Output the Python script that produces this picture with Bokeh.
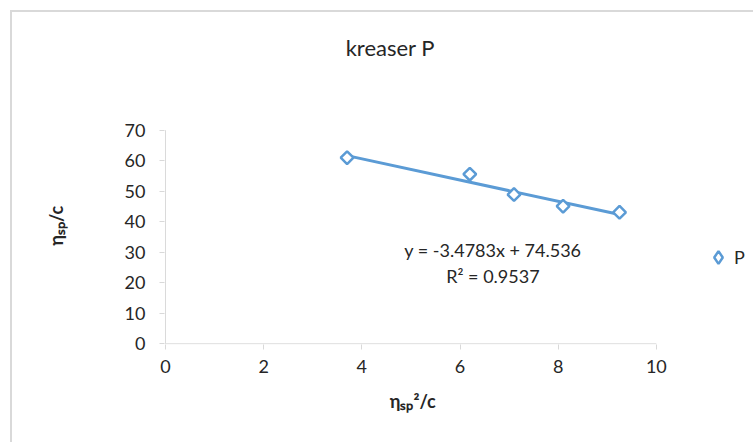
import numpy as np
from bokeh.plotting import figure
from bokeh.models import Range1d, FixedTicker, Label, Legend, LegendItem
from bokeh.embed import file_html
from bokeh.resources import INLINE

# data
x_vals = [3.7, 6.2, 7.1, 8.1, 9.25]
y_vals = [61.0, 55.6, 48.9, 45.1, 43.1]
series_name = "P"
slope = -3.4783
intercept = 74.536
r2 = 0.9537
title_text = "kreaser P"
x_ticks = [0, 2, 4, 6, 8, 10]
y_ticks = [0, 10, 20, 30, 40, 50, 60, 70]
x_label = "ηₛₚ²/c"
y_label = "ηₛₚ/c"

BLUE = "#5b9bd5"
GRAY = "#d9d9d9"
TXT = "#262626"
FONT = "Lato"
EM = "\u2003" * 7   # shifts the centred axis titles over the tick span

# frame covers the whole area right of / above the axes so that the
# title, equation and legend can live inside it
p = figure(width=743, height=432, output_backend="svg", toolbar_location=None,
           x_range=Range1d(-0.02, 12.02), y_range=Range1d(-0.23, 108.57),
           min_border_left=152, min_border_right=0, min_border_top=0, min_border_bottom=100)
p.styles = {"margin-left": "10px", "margin-top": "10px",
            "border-left": f"2px solid {GRAY}", "border-top": f"2px solid {GRAY}"}
p.title.visible = False
p.outline_line_color = None
p.background_fill_color = "white"
p.border_fill_color = "white"
p.xgrid.visible = False
p.ygrid.visible = False

for ax in (p.xaxis[0], p.yaxis[0]):
    ax.axis_line_color = None
    ax.major_tick_line_color = GRAY
    ax.major_tick_in = 0
    ax.major_tick_out = 5
    ax.minor_tick_line_color = None
    ax.major_label_text_font = FONT
    ax.major_label_text_font_size = "18px"
    ax.major_label_text_color = TXT
    ax.axis_label_text_font = FONT
    ax.axis_label_text_font_size = "18px"
    ax.axis_label_text_font_style = "bold"
    ax.axis_label_text_color = TXT

p.xaxis.ticker = FixedTicker(ticks=x_ticks)
p.yaxis.ticker = FixedTicker(ticks=y_ticks)
p.yaxis.major_label_standoff = 14
p.xaxis.major_label_standoff = 10
p.xaxis.axis_label = x_label + EM
p.yaxis.axis_label = y_label + EM
p.xaxis.axis_label_standoff = 14
p.yaxis.axis_label_standoff = 55

# axis lines limited to the tick span
p.segment(x0=[x_ticks[0], x_ticks[0]], y0=[y_ticks[0], y_ticks[0]],
          x1=[x_ticks[-1], x_ticks[0]], y1=[y_ticks[0], y_ticks[-1]],
          line_color=GRAY, line_width=1)

# trendline
tx = np.array([min(x_vals), max(x_vals)])
p.line(tx, slope * tx + intercept, line_color=BLUE, line_width=3)

# legend proxy (tiny, hidden under the real markers) -> diamond symbol in the legend
proxy = p.scatter(x_vals, y_vals, marker="diamond", size=1, line_color=BLUE,
                  line_width=2.5, fill_color="white")

r = p.scatter(x_vals, y_vals, marker="square", angle=np.pi / 4, size=9,
              line_color=BLUE, line_width=2.5, fill_color="white")

legend = Legend(items=[LegendItem(label=series_name, renderers=[proxy])],
                location=(538, 71), border_line_color=None, background_fill_alpha=0,
                label_text_font=FONT, label_text_font_size="18px", label_text_color=TXT,
                glyph_width=32, glyph_height=32, label_width=20, padding=0, margin=0,
                label_standoff=-7)
p.add_layout(legend)

p.add_layout(Label(x=4.58, y=97.2, text=title_text, text_align="center",
                   text_baseline="alphabetic",
                   text_font=FONT, text_font_size="22px", text_color=TXT))
p.add_layout(Label(x=6.67, y=30.8, text=f"y = {slope}x + {intercept}", text_align="center",
                   text_baseline="alphabetic",
                   text_font=FONT, text_font_size="18px", text_color=TXT))
p.add_layout(Label(x=6.67, y=22.3, text=f"R² = {r2}", text_align="center",
                   text_baseline="alphabetic",
                   text_font=FONT, text_font_size="18px", text_color=TXT))

open("out.html", "w").write(file_html(p, INLINE))
